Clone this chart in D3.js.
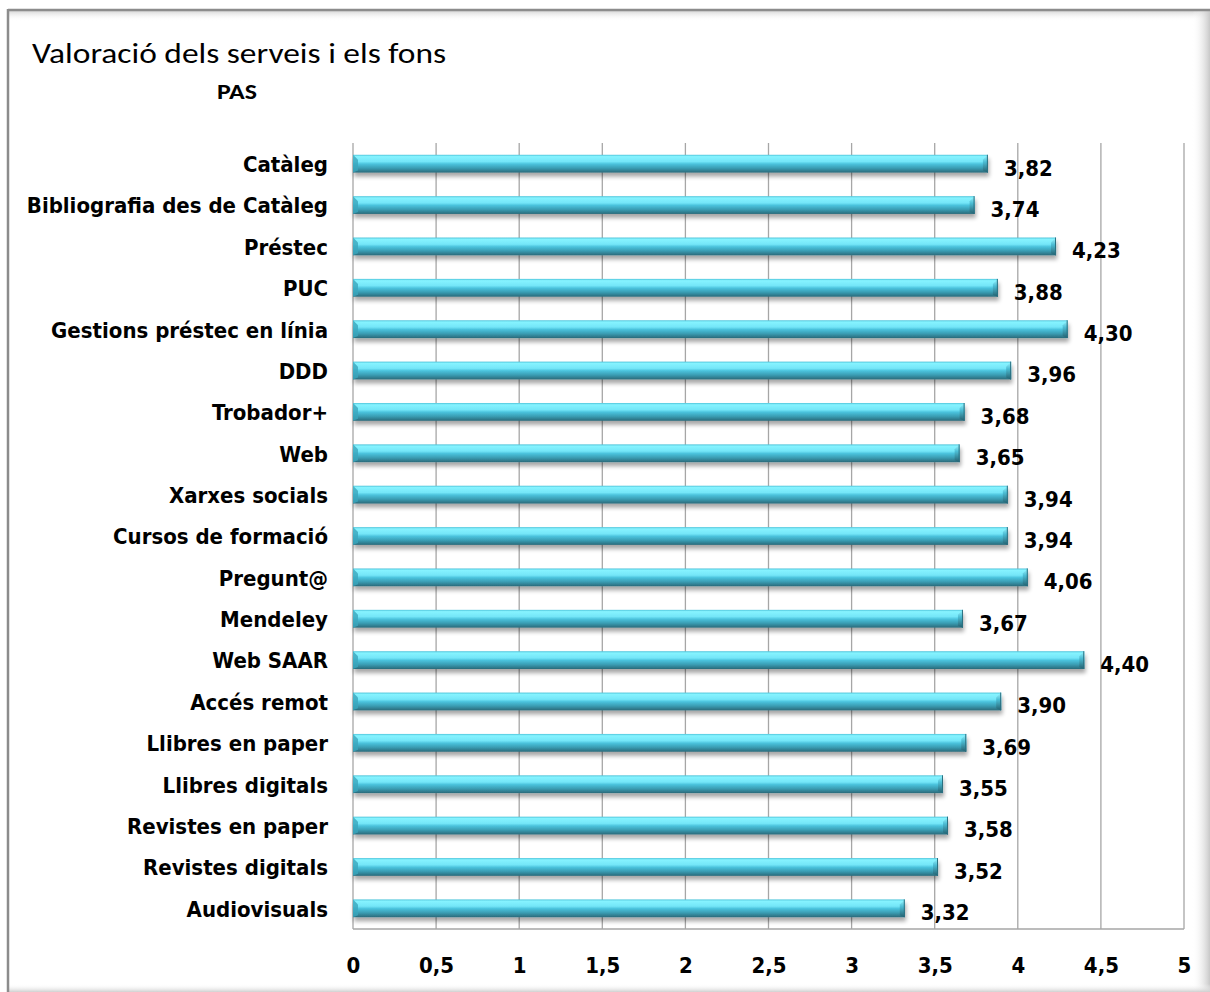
<!DOCTYPE html>
<html>
<head>
<meta charset="utf-8">
<script src="https://cdn.jsdelivr.net/npm/d3@7"></script>
<style>
  html, body { margin: 0; padding: 0; background: #ffffff; }
  svg { display: block; }
</style>
</head>
<body>
<svg id="chart" width="1210" height="992"></svg>
<script>
// ---- data ----
const categories = [
  "Catàleg", "Bibliografia des de Catàleg", "Préstec", "PUC",
  "Gestions préstec en línia", "DDD", "Trobador+", "Web",
  "Xarxes socials", "Cursos de formació", "Pregunt@", "Mendeley",
  "Web SAAR", "Accés remot", "Llibres en paper", "Llibres digitals",
  "Revistes en paper", "Revistes digitals", "Audiovisuals"
];
const values = [3.82, 3.74, 4.23, 3.88, 4.30, 3.96, 3.68, 3.65, 3.94, 3.94,
                4.06, 3.67, 4.40, 3.90, 3.69, 3.55, 3.58, 3.52, 3.32];
const tickValues = [0, 0.5, 1, 1.5, 2, 2.5, 3, 3.5, 4, 4.5, 5];
const tickLabels = ["0", "0,5", "1", "1,5", "2", "2,5", "3", "3,5", "4", "4,5", "5"];
const titleText = "Valoració dels serveis i els fons";
const subtitleText = "PAS";

const FONT = "'DejaVu Sans Condensed', 'Liberation Sans', sans-serif";

const svg = d3.select("#chart");
const defs = svg.append("defs");

// bar shadow
const bs = defs.append("filter").attr("id", "barShadow")
  .attr("x", "-5%").attr("y", "-50%").attr("width", "110%").attr("height", "250%");
bs.append("feGaussianBlur").attr("in", "SourceAlpha").attr("stdDeviation", 2.2).attr("result", "b");
bs.append("feOffset").attr("in", "b").attr("dx", 1).attr("dy", 4).attr("result", "o");
bs.append("feComponentTransfer").attr("in", "o").attr("result", "o2")
  .append("feFuncA").attr("type", "linear").attr("slope", 0.35);
const bm = bs.append("feMerge");
bm.append("feMergeNode").attr("in", "o2");
bm.append("feMergeNode").attr("in", "SourceGraphic");

// bar gradient
const g = defs.append("linearGradient").attr("id", "barGrad")
  .attr("x1", 0).attr("y1", 0).attr("x2", 0).attr("y2", 1);
[["0%", "#4fc4da"], ["10%", "#86f3ff"], ["38%", "#74e6f8"], ["52%", "#4ac2dc"],
 ["75%", "#3a9db3"], ["100%", "#2a6a7a"]].forEach(([o, c]) =>
  g.append("stop").attr("offset", o).attr("stop-color", c));
const ge = defs.append("linearGradient").attr("id", "endGrad")
  .attr("x1", 0).attr("y1", 0).attr("x2", 0).attr("y2", 1);
[["0%", "#9ff6ff"], ["40%", "#4cbdd4"], ["100%", "#245f6e"]].forEach(([o, c]) =>
  ge.append("stop").attr("offset", o).attr("stop-color", c));

// page shading (right / bottom / below top border)
const rs = defs.append("linearGradient").attr("id", "rightShade")
  .attr("x1", 0).attr("y1", 0).attr("x2", 1).attr("y2", 0);
rs.append("stop").attr("offset", "0%").attr("stop-color", "#ffffff").attr("stop-opacity", 0);
rs.append("stop").attr("offset", "100%").attr("stop-color", "#c8c8c8").attr("stop-opacity", 1);
const bsh = defs.append("linearGradient").attr("id", "bottomShade")
  .attr("x1", 0).attr("y1", 0).attr("x2", 0).attr("y2", 1);
bsh.append("stop").attr("offset", "0%").attr("stop-color", "#ffffff").attr("stop-opacity", 0);
bsh.append("stop").attr("offset", "100%").attr("stop-color", "#d0d0d0").attr("stop-opacity", 1);
const ts = defs.append("linearGradient").attr("id", "topShade")
  .attr("x1", 0).attr("y1", 0).attr("x2", 0).attr("y2", 1);
ts.append("stop").attr("offset", "0%").attr("stop-color", "#d8d8d8").attr("stop-opacity", 1);
ts.append("stop").attr("offset", "100%").attr("stop-color", "#ffffff").attr("stop-opacity", 0);

// frame
svg.append("rect").attr("x", 0).attr("y", 0).attr("width", 1210).attr("height", 992).attr("fill", "#ffffff");
svg.append("rect").attr("x", 9).attr("y", 11).attr("width", 1201).attr("height", 10).attr("fill", "url(#topShade)");
svg.append("rect").attr("x", 1192).attr("y", 11).attr("width", 18).attr("height", 981).attr("fill", "url(#rightShade)");
svg.append("rect").attr("x", 9).attr("y", 984).attr("width", 1201).attr("height", 8).attr("fill", "url(#bottomShade)");
svg.append("line").attr("x1", 8).attr("x2", 1210).attr("y1", 10).attr("y2", 10)
  .attr("stroke", "#8c8c8c").attr("stroke-width", 2.5);
svg.append("line").attr("x1", 8).attr("x2", 8).attr("y1", 9).attr("y2", 992)
  .attr("stroke", "#8c8c8c").attr("stroke-width", 2.5);

// title
svg.append("text").attr("x", 32).attr("y", 63)
  .attr("font-family", "Carlito, 'Open Sans', sans-serif").attr("font-size", 28)
  .attr("textLength", 414).attr("lengthAdjust", "spacingAndGlyphs")
  .attr("fill", "#000").text(titleText);
svg.append("text").attr("x", 217).attr("y", 99)
  .attr("font-family", "Carlito, 'Open Sans', sans-serif").attr("font-size", 22).attr("font-weight", "bold")
  .attr("textLength", 40).attr("lengthAdjust", "spacingAndGlyphs")
  .attr("fill", "#000").text(subtitleText);

// scales
const x = d3.scaleLinear().domain([0, 5]).range([353, 1184]);
const y = d3.scaleBand().domain(categories).range([143, 929]).paddingInner(0.57).paddingOuter(0.285);

// gridlines
svg.append("g").selectAll("line").data(tickValues).join("line")
  .attr("x1", d => x(d)).attr("x2", d => x(d))
  .attr("y1", 143).attr("y2", 929)
  .attr("stroke", "#a6a6a6").attr("stroke-width", 1.3);
svg.append("line").attr("x1", x(0)).attr("x2", x(5)).attr("y1", 929).attr("y2", 929)
  .attr("stroke", "#a6a6a6").attr("stroke-width", 1.3);

// x-axis labels via d3 axis
const xAxis = d3.axisBottom(x).tickValues(tickValues)
  .tickFormat((d, i) => tickLabels[i]).tickSize(0).tickPadding(0);
const xa = svg.append("g").attr("transform", "translate(0,957)").call(xAxis);
xa.select(".domain").remove();
xa.selectAll("text").attr("font-family", FONT).attr("font-size", 22)
  .attr("font-weight", "bold").attr("fill", "#000").attr("dy", "0.71em");

// y-axis labels via d3 axis
const yAxis = d3.axisLeft(y).tickSize(0).tickPadding(0);
const ya = svg.append("g").attr("transform", "translate(328,0)").call(yAxis);
ya.select(".domain").remove();
ya.selectAll("text").attr("font-family", FONT).attr("font-size", 22)
  .attr("font-weight", "bold").attr("fill", "#000").attr("dy", "0.38em");

// bars
const bh = y.bandwidth();
const bars = svg.append("g").selectAll("g").data(categories).join("g")
  .attr("filter", "url(#barShadow)");
bars.append("rect")
  .attr("x", x(0)).attr("y", d => y(d))
  .attr("width", (d, i) => x(values[i]) - x(0)).attr("height", bh)
  .attr("fill", "url(#barGrad)");
// left bevel
bars.append("path")
  .attr("d", d => {
    const y0 = y(d), x0 = x(0);
    return `M${x0},${y0} L${x0 + 5},${y0 + 5} L${x0 + 5},${y0 + bh - 2} L${x0},${y0 + bh} Z`;
  })
  .attr("fill", "#3aa6bd").attr("opacity", 0.8);
// right bevel end
bars.append("path")
  .attr("d", (d, i) => {
    const y0 = y(d), x1 = x(values[i]);
    return `M${x1},${y0} L${x1 - 5},${y0 + 5} L${x1 - 5},${y0 + bh - 2} L${x1},${y0 + bh} Z`;
  })
  .attr("fill", "url(#endGrad)");
bars.append("line")
  .attr("x1", (d, i) => x(values[i]) - 0.5).attr("x2", (d, i) => x(values[i]) - 0.5)
  .attr("y1", d => y(d)).attr("y2", d => y(d) + bh)
  .attr("stroke", "#2b6f80").attr("stroke-width", 1);

// value labels
svg.append("g").selectAll("text").data(categories).join("text")
  .attr("x", (d, i) => x(values[i]) + 16)
  .attr("y", d => y(d) + bh / 2 + 4)
  .attr("dy", "0.36em")
  .attr("font-family", FONT).attr("font-size", 22).attr("font-weight", "bold")
  .attr("fill", "#000")
  .text((d, i) => values[i].toFixed(2).replace(".", ","));
</script>
</body>
</html>
